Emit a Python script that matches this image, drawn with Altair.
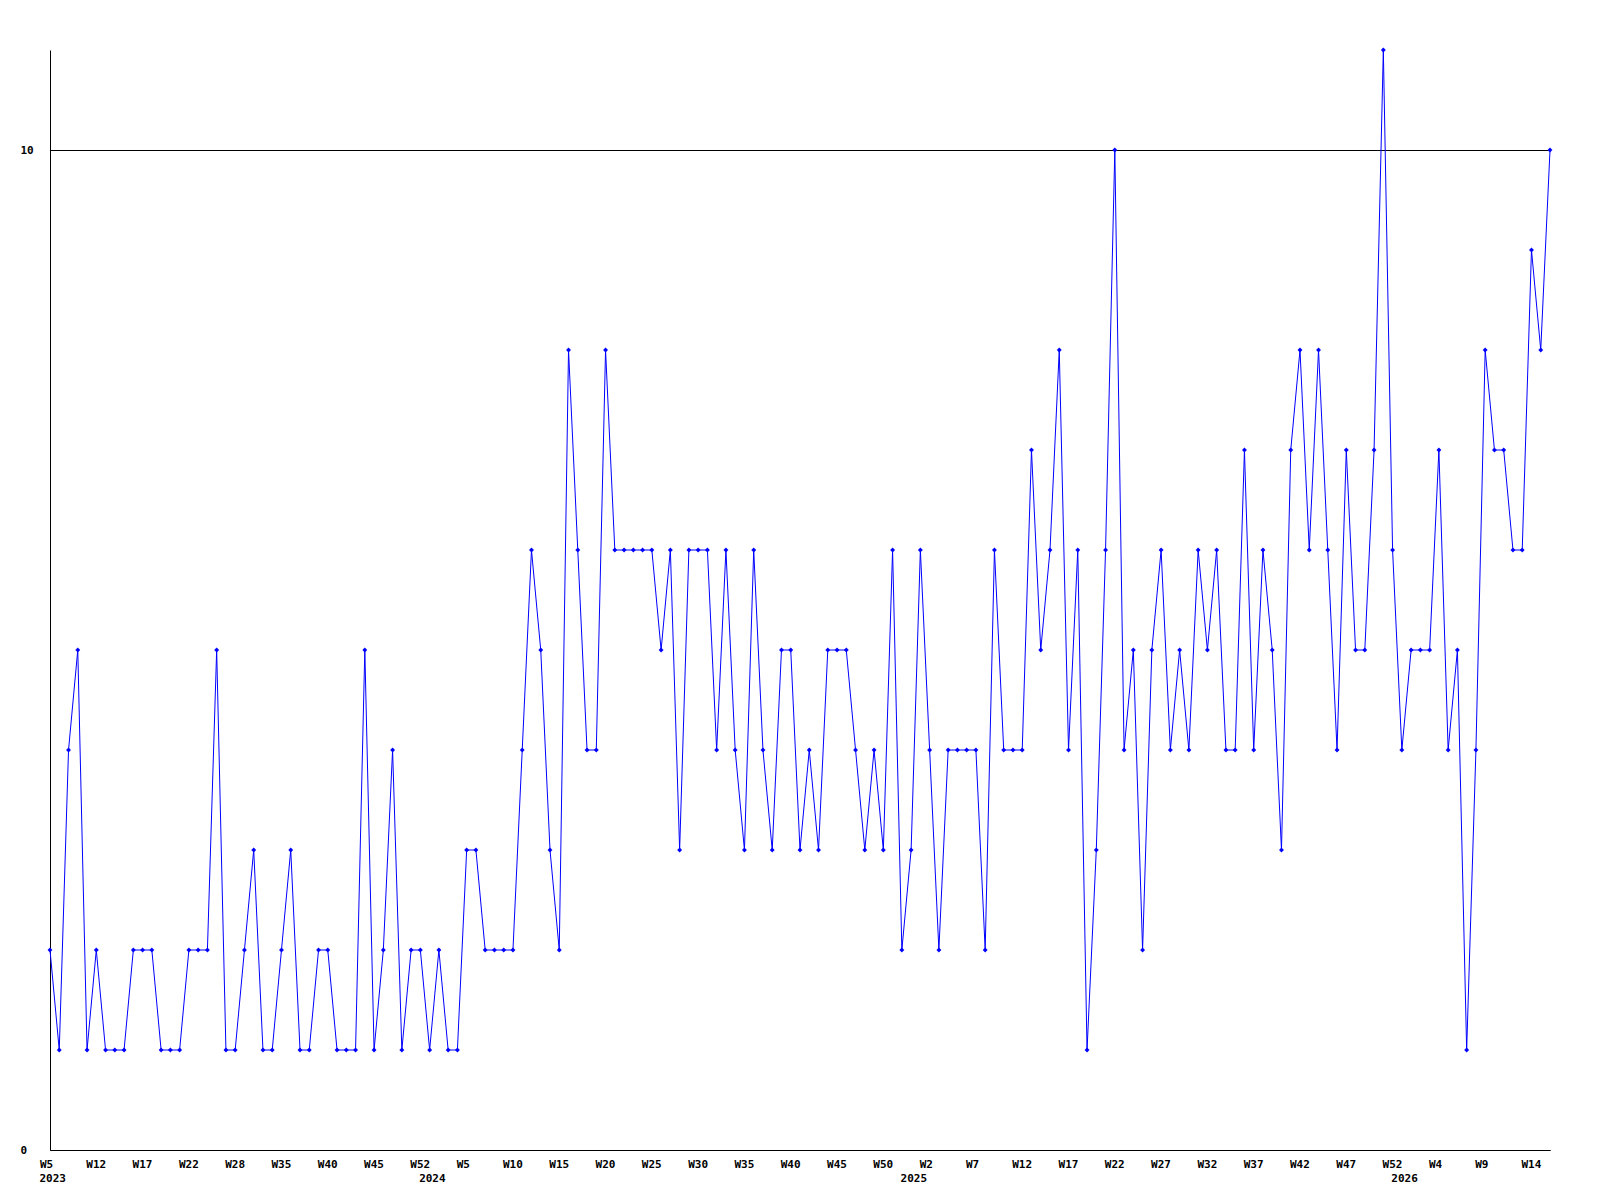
import altair as alt
import pandas as pd

# weekly values, one per point (163 points, 2023 W5 .. 2026 W16)
values = [
    2, 1, 4, 5, 1, 2, 1, 1, 1, 2, 2, 2, 1, 1, 1, 2, 2, 2, 5, 1,
    1, 2, 3, 1, 1, 2, 3, 1, 1, 2, 2, 1, 1, 1, 5, 1, 2, 4, 1, 2,
    2, 1, 2, 1, 1, 3, 3, 2, 2, 2, 2, 4, 6, 5, 3, 2, 8, 6, 4, 4,
    8, 6, 6, 6, 6, 6, 5, 6, 3, 6, 6, 6, 4, 6, 4, 3, 6, 4, 3, 5,
    5, 3, 4, 3, 5, 5, 5, 4, 3, 4, 3, 6, 2, 3, 6, 4, 2, 4, 4, 4,
    4, 2, 6, 4, 4, 4, 7, 5, 6, 8, 4, 6, 1, 3, 6, 10, 4, 5, 2, 5,
    6, 4, 5, 4, 6, 5, 6, 4, 4, 7, 4, 6, 5, 3, 7, 8, 6, 8, 6, 4,
    7, 5, 5, 7, 11, 6, 4, 5, 5, 5, 7, 4, 5, 1, 4, 8, 7, 7, 6, 6,
    9, 8, 10,
]

# x-axis tick labels, one every 5th point
tick_labels = [
    "W5", "W12", "W17", "W22", "W28", "W35", "W40", "W45", "W52",
    "W5", "W10", "W15", "W20", "W25", "W30", "W35", "W40", "W45", "W50",
    "W2", "W7", "W12", "W17", "W22", "W27", "W32", "W37", "W42", "W47", "W52",
    "W4", "W9", "W14",
]
tick_index = [5 * i for i in range(len(tick_labels))]

# year labels and the point index (week 1 / first point) they sit under
years = ["2023", "2024", "2025", "2026"]
year_index = [0, 41, 93, 146]

df = pd.DataFrame({"idx": list(range(len(values))), "value": values})
ydf = pd.DataFrame({"idx": year_index, "year": years})

W, H = 1500, 1100
FONT = "DejaVu Sans Mono"

label_expr = "[" + ",".join("'%s'" % s for s in tick_labels) + "][round(datum.value / 5)]"

xscale = alt.Scale(domain=[0, len(values) - 1], nice=False, zero=False)
yscale = alt.Scale(domain=[0, 11], nice=False)

x_axis = alt.Axis(
    values=tick_index, labelExpr=label_expr, title=None, grid=False,
    ticks=False, domain=True, domainColor="black", domainWidth=1,
    labelAlign="left", labelOffset=-10.5, labelBaseline="top", labelPadding=8,
    labelFont=FONT, labelFontSize=11, labelFontWeight="bold", labelColor="black",
    labelOverlap=False, labelFlush=False,
)
y_axis = alt.Axis(
    values=[0, 10], format="d", title=None, grid=True, gridColor="black", gridWidth=1,
    ticks=False, domain=True, domainColor="black", domainWidth=1,
    labelAlign="left", labelPadding=30, labelBaseline="middle",
    labelFont=FONT, labelFontSize=11, labelFontWeight="bold", labelColor="black",
)

base = alt.Chart(df)
line = base.mark_line(color="#0000ff", strokeWidth=1).encode(
    x=alt.X("idx:Q", scale=xscale, axis=x_axis),
    y=alt.Y("value:Q", scale=yscale, axis=y_axis),
)
pts = base.mark_point(shape="diamond", filled=True, color="#0000ff", size=24, opacity=1).encode(
    x=alt.X("idx:Q", scale=xscale),
    y=alt.Y("value:Q", scale=yscale),
)
yr = alt.Chart(ydf).mark_text(
    align="left", baseline="top", dx=-10.5, font=FONT, fontSize=11,
    fontWeight="bold", color="black",
).encode(
    x=alt.X("idx:Q", scale=xscale),
    y=alt.value(H + 23),
    text="year:N",
)

chart = alt.layer(line, pts, yr).properties(
    width=W, height=H,
    autosize=alt.AutoSizeParams(type="none"),
    padding={"left": 42, "top": 42, "right": 40, "bottom": 45},
    background="white",
).configure_view(stroke=None)

chart.save("out.html", embed_options={"renderer": "svg", "actions": False})
